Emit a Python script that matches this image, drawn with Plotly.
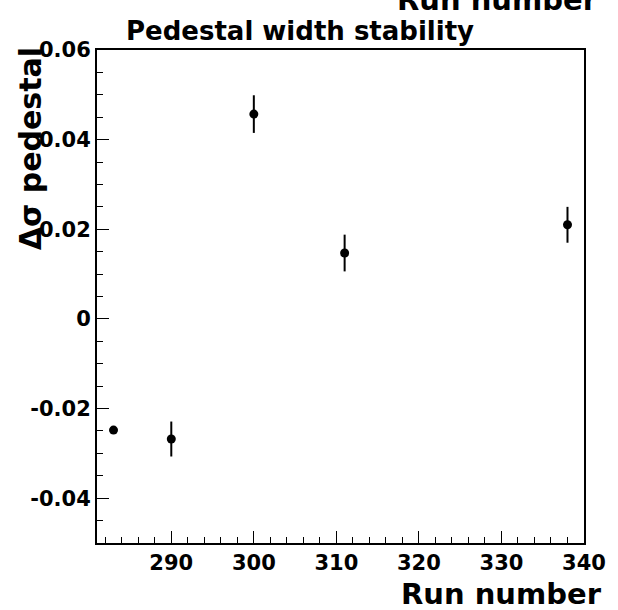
import plotly.graph_objects as go

# Data
run_number = [283, 290, 300, 311, 338]
delta_sigma = [-0.0248, -0.0268, 0.0457, 0.0147, 0.0210]
delta_sigma_err = [0.0008, 0.0039, 0.0042, 0.0041, 0.0040]

y_tickvals = [-0.04, -0.02, 0, 0.02, 0.04, 0.06]
y_ticktext = ["-0.04", "-0.02", "0", "0.02", "0.04", "0.06"]
x_tickvals = [290, 300, 310, 320, 330, 340]
x_ticktext = ["290", "300", "310", "320", "330", "340"]

FONT = "DejaVu Sans"

fig = go.Figure()
fig.add_trace(go.Scatter(
    x=run_number, y=delta_sigma, mode="markers",
    marker=dict(color="black", size=9, symbol="circle"),
    error_y=dict(type="data", array=delta_sigma_err, visible=True,
                 color="black", thickness=2, width=0),
    showlegend=False,
))

W, H = 618, 610
L, R, T, B = 97, 590, 50, 543


def px(p):
    return (p - L) / (R - L)


def py(p):
    return (B - p) / (B - T)


fig.update_layout(
    width=W, height=H,
    margin=dict(l=L, r=W - R, t=T, b=H - B, pad=0),
    paper_bgcolor="white", plot_bgcolor="white",
    font=dict(family=FONT, color="black"),
    xaxis=dict(
        range=[281, 340], showgrid=False, zeroline=False,
        showline=True, linecolor="black", linewidth=2, mirror=True,
        ticks="inside", ticklen=12, tickwidth=1, tickcolor="black",
        tickvals=x_tickvals, ticktext=x_ticktext,
        tickfont=dict(family=FONT, size=21, color="black", weight="bold"),
        minor=dict(dtick=2, tick0=0, ticks="inside", ticklen=6, tickcolor="black", tickwidth=1, showgrid=False),
    ),
    yaxis=dict(
        range=[-0.05, 0.06], showgrid=False, zeroline=False,
        showline=True, linecolor="black", linewidth=2, mirror=True,
        ticks="inside", ticklen=12, tickwidth=1, tickcolor="black",
        tickvals=y_tickvals, ticktext=y_ticktext,
        tickfont=dict(family=FONT, size=21, color="black", weight="bold"),
        minor=dict(dtick=0.005, tick0=0, ticks="inside", ticklen=6, tickcolor="black", tickwidth=1, showgrid=False),
    ),
    annotations=[
        dict(text="Pedestal width stability", xref="paper", yref="paper",
             x=px(303), y=py(48), xanchor="center", yanchor="bottom", showarrow=False,
             font=dict(family=FONT, size=26, color="black", weight="bold")),
        dict(text="Run number", xref="paper", yref="paper",
             x=px(610), y=py(613), xanchor="right", yanchor="bottom", showarrow=False,
             font=dict(family=FONT, size=29, color="black", weight="bold")),
        dict(text="Run number", xref="paper", yref="paper",
             x=px(606), y=py(19), xanchor="right", yanchor="bottom", showarrow=False,
             font=dict(family=FONT, size=29, color="black", weight="bold")),
        dict(text="Δσ pedestal", xref="paper", yref="paper",
             x=px(30), y=py(45), xanchor="center", yanchor="top", showarrow=False,
             textangle=-90,
             font=dict(family=FONT, size=30, color="black", weight="bold")),
    ],
)

fig.write_html("out.html")
